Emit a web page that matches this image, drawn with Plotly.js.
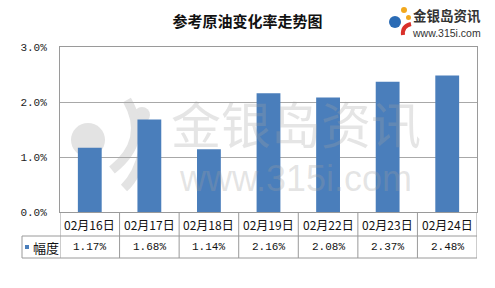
<!DOCTYPE html>
<html><head><meta charset="utf-8">
<script src="https://cdn.plot.ly/plotly-3.0.1.min.js"></script>
<style>html,body{margin:0;padding:0;background:#fff}#chart{width:495px;height:288px}</style>
</head><body><div id="chart"></div>
<script>
const categories = ["02月16日","02月17日","02月18日","02月19日","02月22日","02月23日","02月24日"];
const values = [1.17, 1.68, 1.14, 2.16, 2.08, 2.37, 2.48];
const valueLabels = ["1.17%","1.68%","1.14%","2.16%","2.08%","2.37%","2.48%"];
const yTickVals = [0, 1, 2, 3];
const yTickText = ["0.0%","1.0%","2.0%","3.0%"];
const seriesName = "幅度";
const titleText = "参考原油变化率走势图";

const W = 495, H = 288, L = 60, R = 18, T = 47, B = 76;
const pw = W - L - R, ph = H - T - B;
const px = v => (v - L) / pw;          // pixel -> paper x
const py = v => (H - B - v) / ph;      // pixel -> paper y

const lineCol = '#9a9a9a';
const wm = '#e3e3e3';
const shapes = [];
const annotations = [];
const ann = (o) => annotations.push(Object.assign({showarrow:false, xanchor:'center', yanchor:'middle'}, o));

// watermark icon (below traces)
shapes.push({type:'circle', xref:'paper', yref:'paper', layer:'below', x0:px(71), x1:px(105), y0:py(157), y1:py(123), fillcolor:wm, line:{width:0}});
shapes.push({type:'circle', xref:'paper', yref:'paper', layer:'below', x0:px(134), x1:px(150), y0:py(123), y1:py(107), fillcolor:wm, line:{width:0}});
shapes.push({type:'path', xref:'paper', yref:'paper', layer:'below',
  path:`M ${px(127)} ${py(100)} Q ${px(150)} ${py(140)} ${px(112)} ${py(170)}`, line:{color:wm, width:9}});
shapes.push({type:'path', xref:'paper', yref:'paper', layer:'below',
  path:`M ${px(143)} ${py(150)} Q ${px(138)} ${py(175)} ${px(124)} ${py(188)}`, line:{color:wm, width:9}});

// watermark text (one two-line annotation)
ann({text:"<span style='font-size:50px'>金银岛资讯</span><br><span style='font-size:36px;font-family:Liberation Sans'>www.315i.com</span>",
  xref:'paper', yref:'paper', x:px(296), y:py(142),
  font:{family:'Noto Sans CJK SC', size:36, color:'rgba(160,160,160,0.28)'}});

// top-right logo
shapes.push({type:'circle', xref:'paper', yref:'paper', x0:px(389), x1:px(401), y0:py(28), y1:py(16), fillcolor:'#2a6bb5', line:{width:0}});
shapes.push({type:'circle', xref:'paper', yref:'paper', x0:px(401), x1:px(407), y0:py(13), y1:py(7), fillcolor:'#f2a81d', line:{width:0}});
shapes.push({type:'circle', xref:'paper', yref:'paper', x0:px(406), x1:px(411), y0:py(20), y1:py(15), fillcolor:'#f2a81d', line:{width:0}});
shapes.push({type:'path', xref:'paper', yref:'paper',
  path:`M ${px(411)} ${py(24)} Q ${px(402)} ${py(26)} ${px(403)} ${py(35)}`, line:{color:'#d9302a', width:4}});
ann({text:"<span style='font-size:13.5px'><b>金银岛资讯</b></span><br><span style='font-size:10.5px;font-family:Liberation Sans'>www.315i.com</span>",
  xref:'paper', yref:'paper', x:px(446), y:py(22),
  font:{family:'Noto Sans CJK SC', size:12, color:'#333'}});

// data table lines
const yA = py(236), yB = py(258);
for (let i = 0; i <= categories.length; i++) {
  shapes.push({type:'line', xref:'x', yref:'paper', x0:i-0.5, x1:i-0.5, y0:0, y1:yB, line:{color:lineCol, width:1}});
}
shapes.push({type:'line', xref:'paper', yref:'paper', x0:px(22), x1:px(22), y0:yA, y1:yB, line:{color:lineCol, width:1}});
shapes.push({type:'line', xref:'paper', yref:'paper', x0:px(22), x1:1, y0:yA, y1:yA, line:{color:lineCol, width:1}});
shapes.push({type:'line', xref:'paper', yref:'paper', x0:px(22), x1:1, y0:yB, y1:yB, line:{color:lineCol, width:1}});
// legend key
shapes.push({type:'rect', xref:'paper', yref:'paper', x0:px(25), x1:px(29), y0:py(249), y1:py(245), fillcolor:'#4a7ebb', line:{width:0}});
ann({text:seriesName, xref:'paper', yref:'paper', x:px(31), y:(yA+yB)/2, xanchor:'left',
  font:{family:'Noto Sans CJK SC', size:13, color:'#111'}});

categories.forEach((c, i) => {
  ann({text:c, xref:'x', yref:'paper', x:i, y:yA/2,
    font:{family:'Noto Sans CJK SC', size:12, color:'#111'}});
  ann({text:valueLabels[i], xref:'x', yref:'paper', x:i, y:(yA+yB)/2,
    font:{family:'Liberation Mono', size:11, color:'#111'}});
});

const data = [{
  type:'bar', x:categories.map((c,i)=>i), y:values, name:seriesName,
  marker:{color:'#4a7ebb', line:{width:0}}, width:0.4, hoverinfo:'none'
}];

const layout = {
  width:W, height:H, margin:{l:L, r:R, t:T, b:B},
  paper_bgcolor:'#fff', plot_bgcolor:'rgba(0,0,0,0)',
  showlegend:false,
  title:{text:'<b>'+titleText+'</b>', x:0.5, xanchor:'center', y:1-22/H, yanchor:'middle',
    font:{family:'Noto Sans CJK SC', size:15, color:'#111'}},
  xaxis:{range:[-0.5, categories.length-0.5], showticklabels:false, ticks:'', showgrid:false,
    zeroline:false, showline:true, mirror:true, linecolor:lineCol, linewidth:1, fixedrange:true},
  yaxis:{range:[0,3], tickmode:'array', tickvals:yTickVals, ticktext:yTickText,
    showgrid:true, gridcolor:'#a8a8a8', gridwidth:1, zeroline:false,
    showline:true, mirror:true, linecolor:lineCol, linewidth:1,
    ticks:'outside', ticklen:10, tickcolor:'rgba(0,0,0,0)',
    tickfont:{family:'Liberation Mono', size:11, color:'#222'}, fixedrange:true},
  shapes:shapes, annotations:annotations
};
Plotly.newPlot('chart', data, layout, {displayModeBar:false, staticPlot:true});
</script></body></html>
